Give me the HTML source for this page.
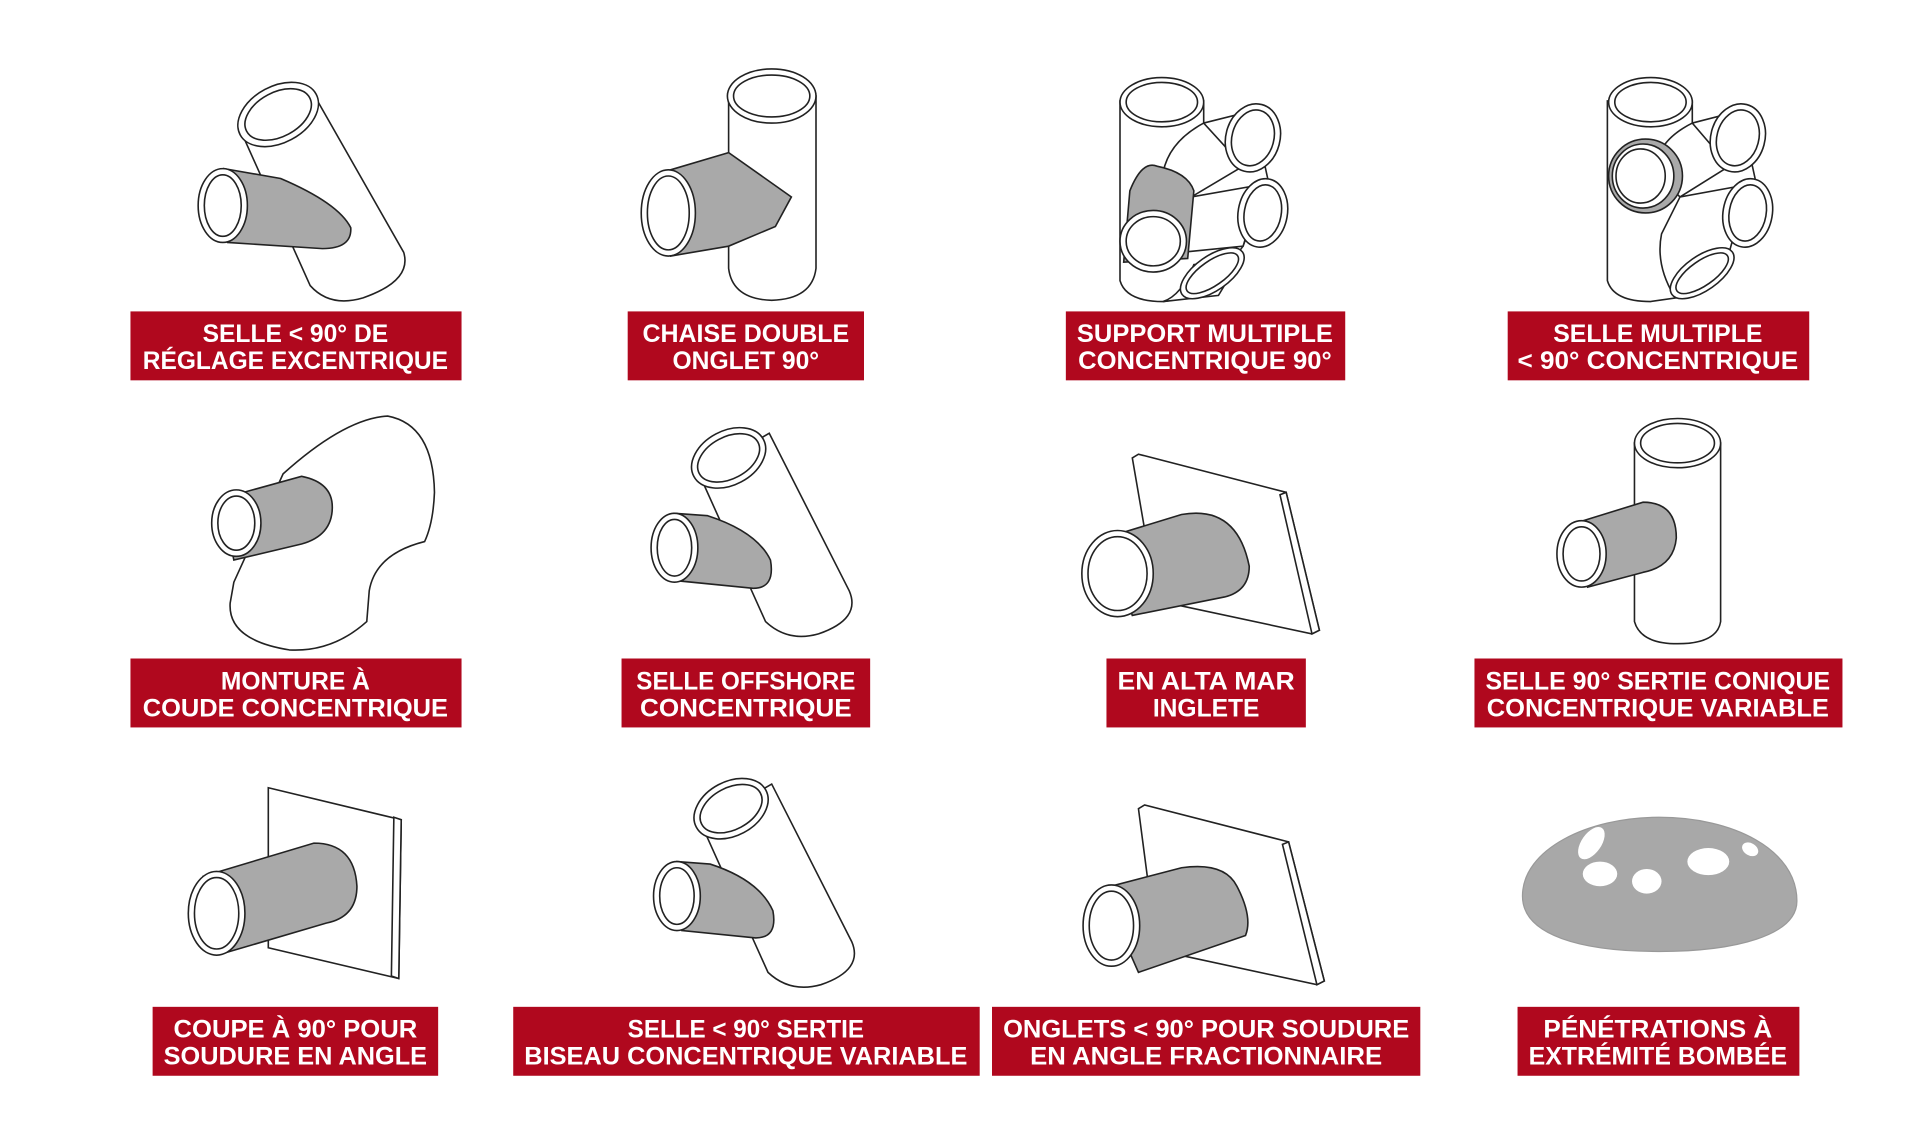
<!DOCTYPE html>
<html><head><meta charset="utf-8"><style>
html,body{margin:0;padding:0;background:#fff;width:1920px;height:1125px;overflow:hidden}
svg{display:block}
text{font-family:"Liberation Sans",sans-serif;font-weight:bold;fill:#fff;font-size:20px;text-anchor:middle}
.s{fill:#fff;stroke:#222;stroke-width:1.3}
.g{fill:#a9a9a9;stroke:#222;stroke-width:1.3}
.r{fill:#b0081e}
</style></head><body>
<svg width="1920" height="1125" viewBox="0 0 1560 914" preserveAspectRatio="none" xmlns="http://www.w3.org/2000/svg">
<!-- FIG 1 -->
<path class="s" d="M195,105 L252,232 Q268,250 295,242 Q335,228 328,205 L258,82 Z"/>
<ellipse class="s" cx="226" cy="93" rx="35" ry="23" transform="rotate(-28 226 93)"/>
<ellipse class="s" cx="226" cy="93" rx="29" ry="18" transform="rotate(-28 226 93)"/>
<path class="g" d="M182,137 L228,145 Q275,165 285,185 Q286,202 262,202 L185,197 Z"/>
<ellipse class="s" cx="181" cy="167" rx="20" ry="30"/><ellipse class="s" cx="181" cy="167" rx="15" ry="25"/>
<!-- FIG 2 -->
<path class="s" d="M592,78 L592,218 Q595,243 627,244 Q660,243 663,218 L663,78 Z"/>
<ellipse class="s" cx="627" cy="78" rx="36" ry="22"/><ellipse class="s" cx="627" cy="78" rx="31" ry="17"/>
<path class="g" d="M538,140 L592,124 L643,160 L630,184 L592,200 L545,208 Z"/>
<ellipse class="s" cx="543" cy="173" rx="22" ry="35"/><ellipse class="s" cx="543" cy="173" rx="17" ry="30"/>
<!-- FIG 3 -->
<path class="s" d="M910,82 L910,228 Q915,245 945,245 L980,240 L1010,200 L1030,145 L1018,90 L978,100 L978,82 Z"/>
<path class="s" d="M978,100 Q950,115 945,140 L968,160 L1010,135 Z"/>
<path class="s" d="M968,160 L960,205 L1010,200 L1025,150 Z"/>
<path class="s" d="M945,245 Q960,240 970,215 L1008,210 L990,240 Z"/>
<ellipse class="s" cx="944" cy="83" rx="34" ry="20"/><ellipse class="s" cx="944" cy="83" rx="29" ry="16"/>
<ellipse class="s" cx="1018" cy="112" rx="22" ry="28" transform="rotate(15 1018 112)"/><ellipse class="s" cx="1018" cy="112" rx="17" ry="23" transform="rotate(15 1018 112)"/>
<ellipse class="s" cx="1026" cy="173" rx="20" ry="28" transform="rotate(10 1026 173)"/><ellipse class="s" cx="1026" cy="173" rx="15" ry="23" transform="rotate(10 1026 173)"/>
<path class="g" d="M913,213 L918,155 Q928,130 940,135 Q965,140 970,155 L965,210 Z"/>
<ellipse class="s" cx="985" cy="222" rx="30" ry="14" transform="rotate(-35 985 222)"/><ellipse class="s" cx="985" cy="222" rx="25" ry="10" transform="rotate(-35 985 222)"/>
<ellipse class="s" cx="937" cy="196" rx="27" ry="25"/><ellipse class="s" cx="937" cy="196" rx="22" ry="20"/>
<!-- FIG 4 -->
<path class="s" d="M1306,82 L1306,228 Q1311,245 1341,245 L1376,240 L1406,200 L1426,145 L1414,90 L1375,100 L1375,82 Z"/>
<path class="s" d="M1375,100 Q1345,115 1345,140 L1365,160 L1405,135 Z"/>
<path class="s" d="M1365,160 L1350,190 Q1345,215 1360,240 L1405,205 L1420,150 Z"/>
<ellipse class="s" cx="1341" cy="83" rx="34" ry="20"/><ellipse class="s" cx="1341" cy="83" rx="29" ry="16"/>
<ellipse class="s" cx="1412" cy="112" rx="22" ry="28" transform="rotate(15 1412 112)"/><ellipse class="s" cx="1412" cy="112" rx="17" ry="23" transform="rotate(15 1412 112)"/>
<ellipse class="s" cx="1420" cy="173" rx="20" ry="28" transform="rotate(10 1420 173)"/><ellipse class="s" cx="1420" cy="173" rx="15" ry="23" transform="rotate(10 1420 173)"/>
<ellipse class="s" cx="1383" cy="222" rx="30" ry="14" transform="rotate(-35 1383 222)"/><ellipse class="s" cx="1383" cy="222" rx="25" ry="10" transform="rotate(-35 1383 222)"/>
<ellipse class="g" cx="1337" cy="143" rx="30" ry="30"/><ellipse class="s" cx="1335" cy="143" rx="25" ry="26"/><ellipse class="s" cx="1333" cy="143" rx="20" ry="22"/>
<!-- FIG 5 elbow -->
<path class="s" d="M230,385 Q280,340 315,338 Q352,345 353,400 Q352,425 345,440 Q305,450 300,480 L298,505 Q270,530 235,528 Q185,520 187,490 L190,473 L230,385 Z"/>
<path class="g" d="M180,405 L245,387 Q270,392 270,412 Q270,435 245,442 L190,455 Z"/>
<ellipse class="s" cx="192" cy="425" rx="20" ry="27"/><ellipse class="s" cx="192" cy="425" rx="15" ry="22"/>
<!-- FIG 6 -->
<path class="s" d="M568,385 L622,505 Q640,522 665,515 Q700,503 690,480 L625,352 Z"/>
<ellipse class="s" cx="592" cy="372" rx="32" ry="22" transform="rotate(-28 592 372)"/><ellipse class="s" cx="592" cy="372" rx="27" ry="17" transform="rotate(-28 592 372)"/>
<path class="g" d="M548,417 L575,419 Q615,432 626,455 Q630,478 612,478 L552,472 Z"/>
<ellipse class="s" cx="548" cy="445" rx="19" ry="28"/><ellipse class="s" cx="548" cy="445" rx="14" ry="23"/>
<!-- FIG 7 plate -->
<path class="s" d="M920,372 L925,369 L1045,400 L1072,512 L1066,515 L940,488 Z"/>
<path class="s" d="M1040,402 L1045,400 L1072,512 L1066,515 Z"/>
<path class="g" d="M898,437 L960,418 Q1005,410 1015,460 Q1015,480 995,485 L920,500 Z"/>
<ellipse class="s" cx="908" cy="466" rx="29" ry="35"/><ellipse class="s" cx="908" cy="466" rx="24" ry="30"/>
<!-- FIG 8 -->
<path class="s" d="M1328,360 L1328,505 Q1333,523 1363,523 Q1395,523 1398,505 L1398,360 Z"/>
<ellipse class="s" cx="1363" cy="360" rx="35" ry="20"/><ellipse class="s" cx="1363" cy="360" rx="30" ry="16"/>
<path class="g" d="M1280,425 L1335,408 Q1362,408 1362,437 Q1360,460 1335,465 L1290,477 Z"/>
<ellipse class="s" cx="1285" cy="450" rx="20" ry="27"/><ellipse class="s" cx="1285" cy="450" rx="15" ry="22"/>
<!-- FIG 9 plate -->
<path class="s" d="M218,640 L326,666 L324,795 L218,770 Z"/>
<path class="s" d="M320,664 L326,666 L324,795 L318,793 Z"/>
<path class="g" d="M165,712 L255,685 Q288,685 290,720 Q290,745 265,750 L180,775 Z"/>
<ellipse class="s" cx="176" cy="742" rx="23" ry="34"/><ellipse class="s" cx="176" cy="742" rx="18" ry="29"/>
<!-- FIG 10 -->
<path class="s" d="M570,670 L624,790 Q642,807 667,800 Q702,788 692,765 L627,637 Z"/>
<ellipse class="s" cx="594" cy="657" rx="32" ry="22" transform="rotate(-28 594 657)"/><ellipse class="s" cx="594" cy="657" rx="27" ry="17" transform="rotate(-28 594 657)"/>
<path class="g" d="M550,700 L577,702 Q617,715 628,740 Q632,762 614,762 L554,756 Z"/>
<ellipse class="s" cx="550" cy="728" rx="19" ry="28"/><ellipse class="s" cx="550" cy="728" rx="14" ry="23"/>
<!-- FIG 11 plate -->
<path class="s" d="M925,657 L930,654 L1047,684 L1076,797 L1070,800 L940,772 Z"/>
<path class="s" d="M1042,686 L1047,684 L1076,797 L1070,800 Z"/>
<path class="g" d="M895,722 L960,705 Q995,700 1005,720 Q1018,745 1012,760 L925,790 Z"/>
<ellipse class="s" cx="903" cy="752" rx="23" ry="33"/><ellipse class="s" cx="903" cy="752" rx="18" ry="28"/>
<!-- FIG 12 dome -->
<path d="M1237,728 C1237,690 1290,664 1348,664 C1408,664 1460,690 1460,732 C1460,760 1410,773 1348,773 C1285,773 1237,760 1237,728 Z" fill="#a8a8a8" stroke="#999"/>
<ellipse cx="1293" cy="685" rx="8" ry="15" transform="rotate(35 1293 685)" fill="#fff"/>
<ellipse cx="1300" cy="710" rx="14" ry="10" fill="#fff"/>
<ellipse cx="1338" cy="716" rx="12" ry="10" fill="#fff"/>
<ellipse cx="1388" cy="700" rx="17" ry="11" fill="#fff"/>
<ellipse cx="1422" cy="690" rx="7" ry="5" transform="rotate(30 1422 690)" fill="#fff"/>
<!-- LABELS -->
<rect class="r" x="106" y="253" width="269" height="56"/>
<text x="240" y="278">SELLE &lt; 90° DE</text><text x="240" y="300" textLength="248" lengthAdjust="spacingAndGlyphs">RÉGLAGE EXCENTRIQUE</text>
<rect class="r" x="510" y="253" width="192" height="56"/>
<text x="606" y="278" textLength="168" lengthAdjust="spacingAndGlyphs">CHAISE DOUBLE</text><text x="606" y="300">ONGLET 90°</text>
<rect class="r" x="866" y="253" width="227" height="56"/>
<text x="979" y="278" textLength="208" lengthAdjust="spacingAndGlyphs">SUPPORT MULTIPLE</text><text x="979" y="300" textLength="206" lengthAdjust="spacingAndGlyphs">CONCENTRIQUE 90°</text>
<rect class="r" x="1225" y="253" width="245" height="56"/>
<text x="1347" y="278" textLength="170" lengthAdjust="spacingAndGlyphs">SELLE MULTIPLE</text><text x="1347" y="300" textLength="228" lengthAdjust="spacingAndGlyphs">&lt; 90° CONCENTRIQUE</text>
<rect class="r" x="106" y="535" width="269" height="56"/>
<text x="240" y="560">MONTURE À</text><text x="240" y="582" textLength="248" lengthAdjust="spacingAndGlyphs">COUDE CONCENTRIQUE</text>
<rect class="r" x="505" y="535" width="202" height="56"/>
<text x="606" y="560" textLength="178" lengthAdjust="spacingAndGlyphs">SELLE OFFSHORE</text><text x="606" y="582" textLength="172" lengthAdjust="spacingAndGlyphs">CONCENTRIQUE</text>
<rect class="r" x="899" y="535" width="162" height="56"/>
<text x="980" y="560" textLength="144" lengthAdjust="spacingAndGlyphs">EN ALTA MAR</text><text x="980" y="582">INGLETE</text>
<rect class="r" x="1198" y="535" width="299" height="56"/>
<text x="1347" y="560" textLength="280" lengthAdjust="spacingAndGlyphs">SELLE 90° SERTIE CONIQUE</text><text x="1347" y="582" textLength="278" lengthAdjust="spacingAndGlyphs">CONCENTRIQUE VARIABLE</text>
<rect class="r" x="124" y="818" width="232" height="56"/>
<text x="240" y="843" textLength="198" lengthAdjust="spacingAndGlyphs">COUPE À 90° POUR</text><text x="240" y="865" textLength="214" lengthAdjust="spacingAndGlyphs">SOUDURE EN ANGLE</text>
<rect class="r" x="417" y="818" width="379" height="56"/>
<text x="606" y="843" textLength="192" lengthAdjust="spacingAndGlyphs">SELLE &lt; 90° SERTIE</text><text x="606" y="865" textLength="360" lengthAdjust="spacingAndGlyphs">BISEAU CONCENTRIQUE VARIABLE</text>
<rect class="r" x="806" y="818" width="348" height="56"/>
<text x="980" y="843" textLength="330" lengthAdjust="spacingAndGlyphs">ONGLETS &lt; 90° POUR SOUDURE</text><text x="980" y="865" textLength="286" lengthAdjust="spacingAndGlyphs">EN ANGLE FRACTIONNAIRE</text>
<rect class="r" x="1233" y="818" width="229" height="56"/>
<text x="1347" y="843" textLength="186" lengthAdjust="spacingAndGlyphs">PÉNÉTRATIONS À</text><text x="1347" y="865" textLength="210" lengthAdjust="spacingAndGlyphs">EXTRÉMITÉ BOMBÉE</text>
</svg>
</body></html>
